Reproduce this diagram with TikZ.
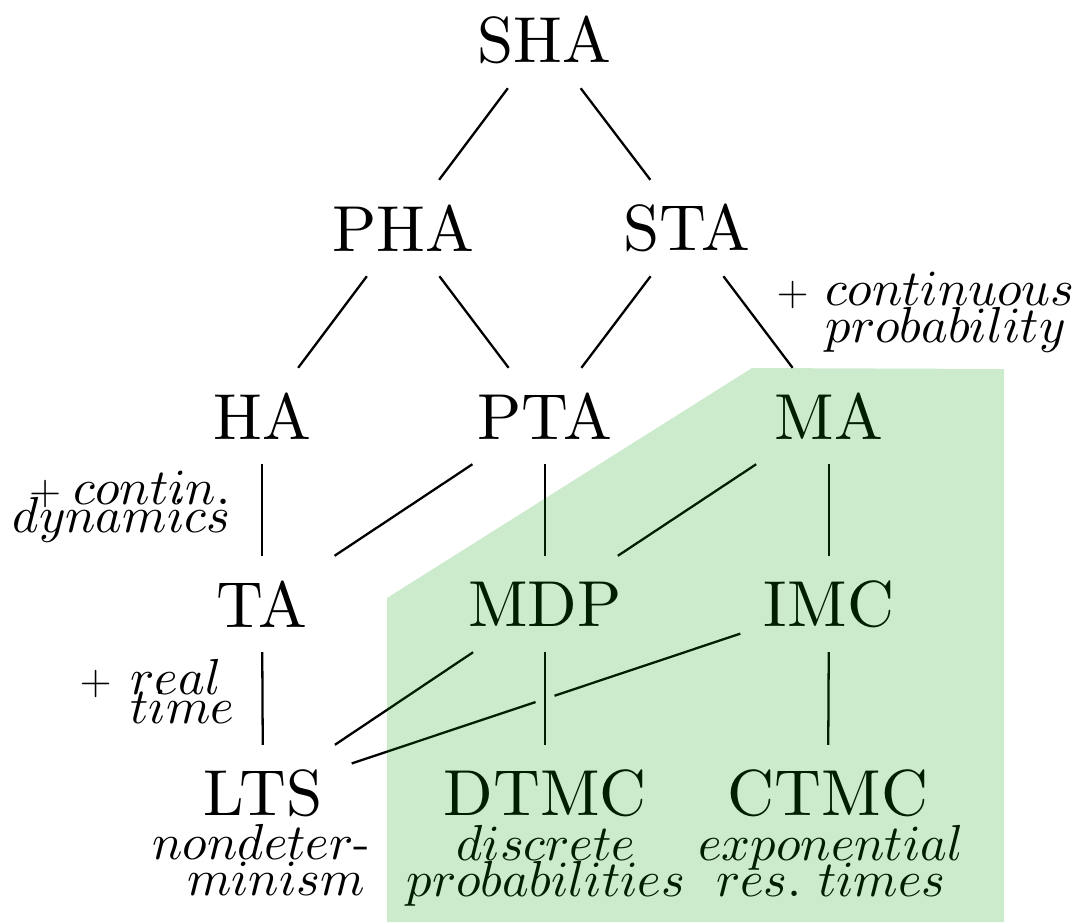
\documentclass[tikz,border=0pt]{standalone}
\usepackage{fontspec}
\usetikzlibrary{calc}
% class names use the 10pt design of Latin Modern, scaled up
\newfontfamily\modelfont{lmroman10-regular.otf}
% math italic taken from the 10pt design at every size
\DeclareFontShape{OML}{cmm}{m}{it}{<->cmmi10}{\skewchar\font=127}
\definecolor{regiongreen}{RGB}{0,150,0}
% two-line annotations are set with a fixed baseline distance
\setlength{\lineskiplimit}{-100pt}
\begin{document}
\begin{tikzpicture}[x=0.1mm,y=-0.1mm,
  model/.style={minimum width=17.6mm, minimum height=9.5mm, inner sep=0pt,
    font=\modelfont\fontsize{18.5}{20}\selectfont},
  edge/.style={line width=0.65pt},
  note/.style={inner sep=0pt, font=\fontsize{14.4}{#1}\selectfont},
  note/.default=10,
  plus/.style={},
]
\useasboundingbox (0,0) rectangle (1084,922);

% model classes
\node[model] (SHA)  at (544,40)  {SHA};
\node[model] (PHA)  at (403,228) {PHA};
\node[model] (STA)  at (687,228) {STA};
\node[model] (HA)   at (262,416) {HA};
\node[model] (PTA)  at (545,416) {PTA};
\node[model] (MA)   at (829,416) {MA};
\node[model] (TA)   at (262,604) {TA};
\node[model] (MDP)  at (545,604) {MDP};
\node[model] (IMC)  at (829,604) {IMC};
\node[model] (LTS)  at (263,793) {LTS};
\node[model] (DTMC) at (545,793) {DTMC};
\node[model] (CTMC) at (828,793) {CTMC};

% inclusion edges
\draw[edge] (SHA) -- (PHA);
\draw[edge] (SHA) -- (STA);
\draw[edge] (PHA) -- (HA);
\draw[edge] (PHA) -- (PTA);
\draw[edge] (STA) -- (PTA);
\draw[edge] (STA) -- (MA);
\draw[edge] (HA) -- (TA);
\draw[edge] (PTA) -- (TA);
\draw[edge] (PTA) -- (MDP);
\draw[edge] (MA) -- (MDP);
\draw[edge] (MA) -- (IMC);
\draw[edge] (TA) -- (LTS);
\draw[edge] (MDP) -- (LTS);
\draw[edge] (MDP) -- (DTMC);
\draw[edge] (IMC) -- (CTMC);
% IMC--LTS hops over MDP--DTMC
\coordinate (X) at (intersection of IMC--LTS and MDP--DTMC);
\draw[edge] (IMC) -- ($(X)!1mm!(IMC)$);
\draw[edge] (LTS) -- ($(X)!1mm!(LTS)$);

% edge annotations (anchored at the baseline of the last line)
\node[note=7.7, anchor=base east, align=right] (dyn) at (231,532)
  {{\fontsize{11.5}{11.5}\selectfont$+$}\hspace{1.2mm}$contin.$\\$dynamics$};
\node[note=8, anchor=base west, align=left] (rt) at (130,723)
  {\llap{{\fontsize{11.5}{11.5}\selectfont$+$}\hspace{1.9mm}}$real$\\$time$};
\node[note=10.5, anchor=base west, align=left] (cp) at (825,342)
  {\llap{{\fontsize{11.5}{11.5}\selectfont$+$}\hspace{1.7mm}}$continuous$\\$probability$};

% characteristic features
\node[note, anchor=base, align=center] (nd) at (261.5,895)
  {$nondeter$-\\\hspace*{2.9mm}$minism$};
\node[note, anchor=base, align=center] (dp) at (546,896)
  {$discrete$\\$probabilities$};
\node[note, anchor=base, align=center] (ex) at (831,896)
  {$exponential$\\$res.$ $times$};

% probabilistic region
\fill[regiongreen, opacity=0.2] (387,598) -- (752,368) -- (1004,369)
  -- (1004,922) -- (387,922) -- cycle;
\end{tikzpicture}
\end{document}
